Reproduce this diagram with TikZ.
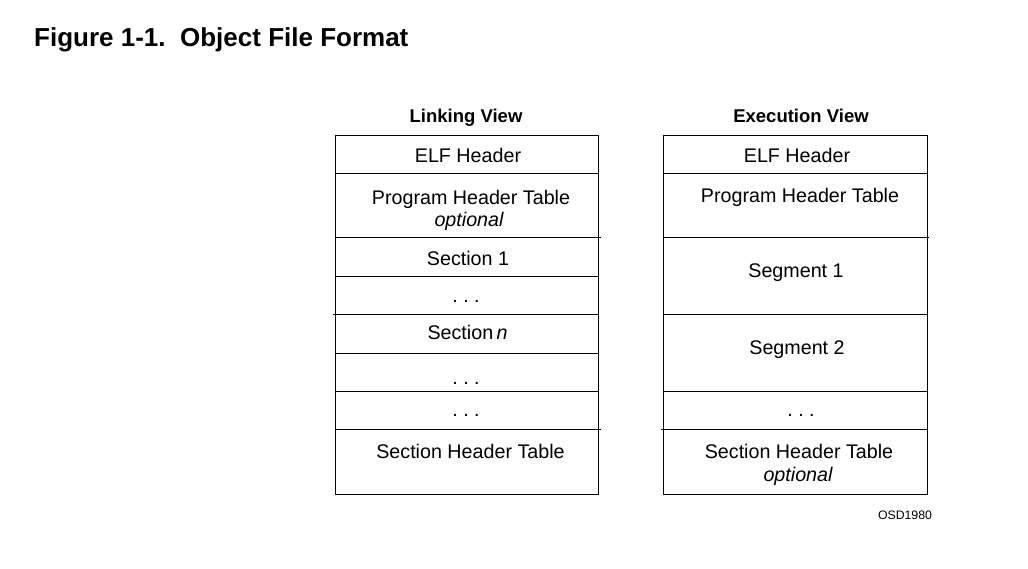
\documentclass[tikz,border=0pt]{standalone}
\usepackage{fontspec}
\setmainfont{Liberation Sans}
\begin{document}
\begin{tikzpicture}[x=1pt,y=-1pt,
  cell/.style={draw=black,line width=1pt},
  rule/.style={draw=black,line width=1pt},
  lbl/.style={inner sep=0pt,anchor=base,font=\fontsize{19.7}{22}\selectfont},
  head/.style={inner sep=0pt,anchor=base,font=\fontsize{18.5}{21}\selectfont\bfseries},
  ttl/.style={inner sep=0pt,anchor=base west,font=\fontsize{26}{30}\selectfont\bfseries},
  tag/.style={inner sep=0pt,anchor=base,font=\fontsize{12.3}{14}\selectfont}]
\useasboundingbox (0,0) rectangle (1028,569);
% title
\node[ttl] (title) at (34,46.5) {Figure 1-1.\ \ Object File Format};
% headings
\node[head] (lvh) at (466,122.5) {Linking View};
\node[head] (evh) at (801,122.5) {Execution View};
% linking view frame
\draw[cell] (335,136) rectangle (598,494);
\draw[rule] (335,174) -- (598,174);
\draw[rule] (335,238) -- (601,238);
\draw[rule] (335,277) -- (598,277);
\draw[rule] (333,315) -- (598,315);
\draw[rule] (335,353) -- (598,353);
\draw[rule] (335,391) -- (598,391);
\draw[rule] (335,429) -- (601,429);
% execution view frame
\draw[cell] (663,136) rectangle (927,494);
\draw[rule] (663,174) -- (927,174);
\draw[rule] (663,238) -- (929,238);
\draw[rule] (663,315) -- (927,315);
\draw[rule] (663,391) -- (927,391);
\draw[rule] (661,429) -- (927,429);
% linking view texts
\node[lbl] (l1) at (468,163) {ELF Header};
\node[lbl] (l2) at (471,204.5) {Program Header Table};
\node[lbl] (l2o) at (469,226.5) {\itshape optional};
\node[lbl] (l3) at (468,266) {Section 1};
\node[lbl] (l4) at (466,302.5) {.\ .\ .};
\node[lbl] (l5) at (467.5,339.5) {Section\,\itshape n};
\node[lbl] (l6) at (466,384) {.\ .\ .};
\node[lbl] (l7) at (466,416) {.\ .\ .};
\node[lbl] (l8) at (470.5,458.5) {Section Header Table};
% execution view texts
\node[lbl] (e1) at (797,163) {ELF Header};
\node[lbl] (e2) at (800,203) {Program Header Table};
\node[lbl] (e3) at (796,278) {Segment 1};
\node[lbl] (e4) at (797,354.5) {Segment 2};
\node[lbl] (e5) at (801,416) {.\ .\ .};
\node[lbl] (e6) at (799,458.5) {Section Header Table};
\node[lbl] (e6o) at (798,481) {\itshape optional};
% tag
\node[tag] (osd) at (905,519) {OSD1980};
\end{tikzpicture}
\end{document}
